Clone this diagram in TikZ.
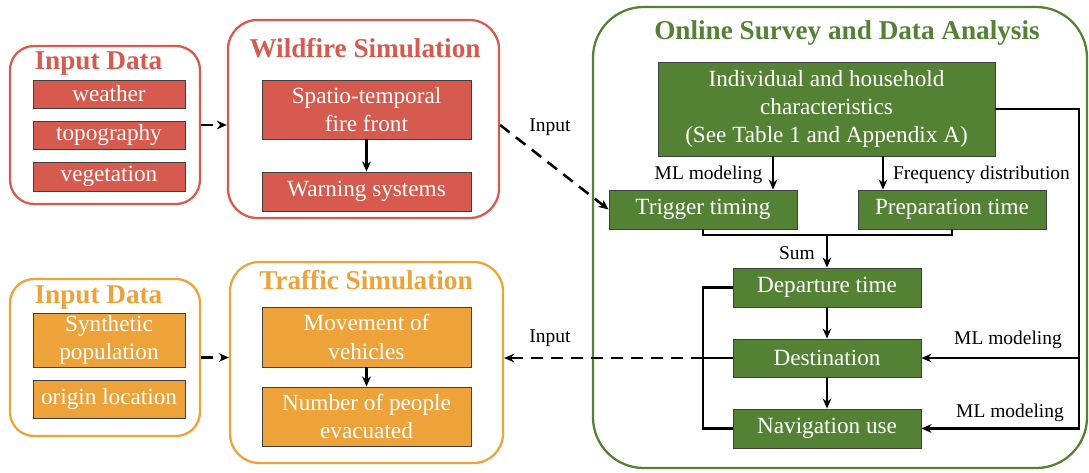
\documentclass[tikz,border=0pt]{standalone}
\usepackage{fontspec}
\setmainfont{Liberation Serif}
\usetikzlibrary{arrows.meta,calc}
\definecolor{wred}{HTML}{D65A4E}
\definecolor{torange}{HTML}{EDA33A}
\definecolor{sgreen}{HTML}{548235}
\newcommand\bodyf{\fontsize{17.4}{21.2}\selectfont}
\newcommand\ttlf{\fontsize{20.4}{24}\selectfont\bfseries}
\newcommand\lblf{\fontsize{14.6}{17}\selectfont}
\begin{document}
\begin{tikzpicture}[x=0.75pt,y=-0.75pt,
 outer/.style={draw=#1,line width=1.7pt,inner sep=0pt},
 ibox/.style={fill=#1,draw=black!75,line width=0.7pt,text=white,font=\bodyf,align=center,inner sep=0pt},
 ttl/.style={text=#1,font=\ttlf,inner sep=0pt},
 lbl/.style={font=\lblf,inner sep=0pt},
 arr/.style={line width=1.9pt,-{Stealth[length=7.5pt,width=6.5pt]}},
 darr/.style={arr,dash pattern=on 9pt off 6pt},
 ln/.style={line width=1.9pt}]
\useasboundingbox (0,0) rectangle (1089,472);

% ---- Wildfire side
\node[outer=wred,rounded corners=18pt,minimum width=142.5pt,minimum height=118.5pt] (inred) at (105,125) {};
\node[ttl=wred] (tinred) at (98.5,63) {Input Data};
\node[ibox=wred,minimum width=114pt,minimum height=21pt] (weather) at (109,94) {weather};
\node[ibox=wred,minimum width=114pt,minimum height=21pt] (topo) at (109,135) {topography};
\node[ibox=wred,minimum width=114pt,minimum height=21.75pt] (veg) at (109,176.5) {vegetation};

\node[outer=wred,rounded corners=22pt,minimum width=203.25pt,minimum height=148.5pt] (wild) at (363.5,119) {};
\node[ttl=wred] (twild) at (365,48) {Wildfire Simulation};
\node[ibox=wred,minimum width=156.75pt,minimum height=44.25pt] (spatio) at (366.5,109.5) {Spatio-temporal\\fire front};
\node[ibox=wred,minimum width=156.75pt,minimum height=29.25pt] (warn) at (366.5,191.5) {Warning systems};

% ---- Traffic side
\node[outer=torange,rounded corners=18pt,minimum width=142.5pt,minimum height=117.75pt] (inor) at (105,357.5) {};
\node[ttl=torange] (tinor) at (98.5,297) {Input Data};
\node[ibox=torange,minimum width=114pt,minimum height=40.5pt] (synth) at (109,340) {Synthetic\\population};
\node[ibox=torange,minimum width=114pt,minimum height=28.5pt] (origin) at (109,399) {origin location};

\node[outer=torange,rounded corners=22pt,minimum width=204.75pt,minimum height=150.75pt] (traf) at (366.5,362.5) {};
\node[ttl=torange] (ttraf) at (366,280) {Traffic Simulation};
\node[ibox=torange,minimum width=156.75pt,minimum height=45pt] (move) at (366.5,337) {Movement of\\vehicles};
\node[ibox=torange,minimum width=156.75pt,minimum height=44.25pt] (num) at (366.5,416.5) {Number of people\\evacuated};

% ---- Survey side
\node[outer=sgreen,rounded corners=38pt,minimum width=370.5pt,minimum height=345.75pt] (green) at (840,237.5) {};
\node[ttl=sgreen] (tgreen) at (847,33) {Online Survey and Data Analysis};
\node[ibox=sgreen,minimum width=252.75pt,minimum height=70.5pt] (indiv) at (826.5,109) {Individual and household\\characteristics\\(See Table 1 and Appendix A)};
\node[ibox=sgreen,minimum width=141pt,minimum height=29.25pt] (trig) at (703,209.5) {Trigger timing};
\node[ibox=sgreen,minimum width=141pt,minimum height=29.25pt] (prep) at (952,209.5) {Preparation time};
\node[ibox=sgreen,minimum width=141pt,minimum height=29.25pt] (dep) at (827,287.5) {Departure time};
\node[ibox=sgreen,minimum width=141pt,minimum height=28.5pt] (dest) at (827,358) {Destination};
\node[ibox=sgreen,minimum width=141pt,minimum height=29.25pt] (nav) at (827,428.5) {Navigation use};

% ---- labels
\node[lbl] (lin1) at (550,127) {Input};
\node[lbl] (lin2) at (550,338) {Input};
\node[lbl] (lml1) at (708.5,175) {ML modeling};
\node[lbl] (lfreq) at (981.5,175) {Frequency distribution};
\node[lbl] (lsum) at (797,253) {Sum};
\node[lbl] (lml2) at (1008,340) {ML modeling};
\node[lbl] (lml3) at (1010,413) {ML modeling};

% ---- helper coordinates
\coordinate (ax1) at (773,0);
\coordinate (ax2) at (883,0);
\coordinate (sy) at (0,235);
\coordinate (bx) at (703,0);
\coordinate (rx) at (1079,0);

% ---- connectors
\draw[darr] (inred.east) -- (inred.east -| wild.west);
\draw[darr] (inor.east) -- (inor.east -| traf.west);
\draw[arr] (spatio) -- (warn);
\draw[arr] (move) -- (num);
\draw[darr] ([yshift=-4.5pt]wild.east) -- (trig.west);

\draw[arr] (indiv.south -| ax1) -- (trig.north -| ax1);
\draw[arr] (indiv.south -| ax2) -- (prep.north -| ax2);
\draw[ln] (trig.south) -- (trig.south |- sy) -- (prep.south |- sy) -- (prep.south);
\draw[arr] (dep.north |- sy) -- (dep.north);
\draw[arr] (dep) -- (dest);
\draw[arr] (dest) -- (nav);

\draw[ln] (dep.west) -- (dep.west -| bx) -- (nav.west -| bx) -- (nav.west);
\draw[ln] (dest.west) -- (dest.west -| bx);
\draw[darr] (dest.west -| bx) -- (dest.west -| traf.east);

\draw[arr] (indiv.east) -- (indiv.east -| rx) -- (nav.east -| rx) -- (nav.east);
\draw[arr] (dest.east -| rx) -- (dest.east);
\end{tikzpicture}
\end{document}
